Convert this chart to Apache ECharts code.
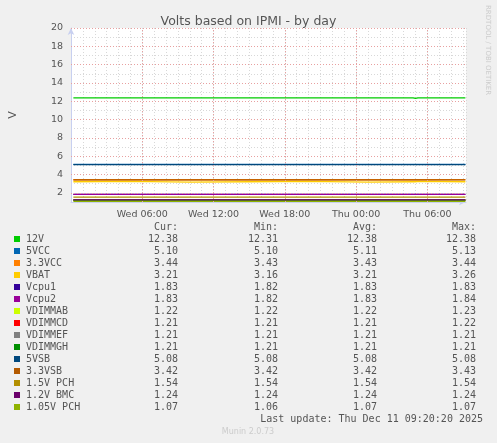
<!DOCTYPE html>
<html><head><meta charset="utf-8">
<script src="https://cdn.jsdelivr.net/npm/echarts@6/dist/echarts.min.js"></script>
<style>html,body{margin:0;padding:0;background:#f0f0f0}#c{width:497px;height:443px}</style>
</head><body><div id="c"></div>
<script>
const names=["12V","5VCC","3.3VCC","VBAT","Vcpu1","Vcpu2","VDIMMAB","VDIMMCD","VDIMMEF","VDIMMGH","5VSB","3.3VSB","1.5V PCH","1.2V BMC","1.05V PCH"];
const colors=["#00cc00","#0066b3","#ff8000","#ffcc00","#330099","#990099","#ccff00","#ff0000","#808080","#008f00","#00487d","#b35a00","#b38f00","#6b006b","#8fb300"];
const cur=["12.38","5.10","3.44","3.21","1.83","1.83","1.22","1.21","1.21","1.21","5.08","3.42","1.54","1.24","1.07"];
const mins=["12.31","5.10","3.43","3.16","1.82","1.82","1.22","1.21","1.21","1.21","5.08","3.42","1.54","1.24","1.06"];
const avgs=["12.38","5.11","3.43","3.21","1.83","1.83","1.22","1.21","1.21","1.21","5.08","3.42","1.54","1.24","1.07"];
const maxs=["12.38","5.13","3.44","3.26","1.83","1.84","1.23","1.22","1.21","1.21","5.08","3.43","1.54","1.24","1.07"];
// hours since Wed 00:00
const hours=[0.2,5,10,15,20,25,28.8,29,29.2,33.2];
const values=[
[12.38,12.38,12.38,12.38,12.38,12.38,12.38,12.31,12.38,12.38],
[5.11,5.11,5.11,5.11,5.11,5.11,5.11,5.11,5.11,5.10],
[3.43,3.43,3.43,3.43,3.43,3.43,3.43,3.43,3.43,3.44],
[3.21,3.26,3.16,3.21,3.26,3.16,3.21,3.21,3.26,3.21],
[1.83,1.83,1.83,1.83,1.83,1.83,1.83,1.83,1.83,1.83],
[1.83,1.83,1.83,1.83,1.83,1.83,1.83,1.83,1.83,1.83],
[1.22,1.22,1.22,1.22,1.22,1.22,1.22,1.22,1.22,1.22],
[1.21,1.21,1.21,1.21,1.21,1.21,1.21,1.21,1.21,1.21],
[1.21,1.21,1.21,1.21,1.21,1.21,1.21,1.21,1.21,1.21],
[1.21,1.21,1.21,1.21,1.21,1.21,1.21,1.21,1.21,1.21],
[5.08,5.08,5.08,5.08,5.08,5.08,5.08,5.08,5.08,5.08],
[3.42,3.42,3.42,3.42,3.42,3.42,3.42,3.42,3.42,3.42],
[1.54,1.54,1.54,1.54,1.54,1.54,1.54,1.54,1.54,1.54],
[1.24,1.24,1.24,1.24,1.24,1.24,1.24,1.24,1.24,1.24],
[1.07,1.07,1.07,1.07,1.07,1.07,1.07,1.07,1.07,1.07]];
const xTicks={6:"Wed 06:00",12:"Wed 12:00",18:"Wed 18:00",24:"Thu 00:00",30:"Thu 06:00"};
const yMajor=[2,4,6,8,10,12,14,16,18,20];

const chart=echarts.init(document.getElementById('c'));
const mono="DejaVu Sans Mono";
const series=names.map((n,i)=>({name:n,type:'line',showSymbol:false,animation:false,
  lineStyle:{width:1.3,color:colors[i]},itemStyle:{color:colors[i]},
  data:hours.map((h,j)=>[h,values[i][j]]),z:3}));
series.push({type:'line',data:[],silent:true,markLine:{silent:true,symbol:'none',label:{show:false},animation:false,
  lineStyle:{color:'#e8a0a0',type:[1,2],width:1},
  data:Object.keys(xTicks).map(k=>({xAxis:+k})).concat(yMajor.map(v=>({yAxis:v})))}});
const g=[];
const cols=[178,278,377,476], hdr=["Cur:","Min:","Avg:","Max:"];
hdr.forEach((h,k)=>g.push({type:'text',style:{text:h,x:cols[k],y:227,align:'right',verticalAlign:'middle',font:'10px '+mono,fill:'#555'}}));
names.forEach((n,i)=>{
  const y=239.5+i*12;
  g.push({type:'rect',shape:{x:14,y:y-3.5,width:6,height:6},style:{fill:colors[i]}});
  g.push({type:'text',style:{text:n,x:26,y:y,verticalAlign:'middle',font:'10px '+mono,fill:'#555'}});
  [cur,mins,avgs,maxs].forEach((arr,k)=>g.push({type:'text',style:{text:arr[i],x:cols[k],y:y,align:'right',verticalAlign:'middle',font:'10px '+mono,fill:'#555'}}));
});
g.push({type:'text',style:{text:'Last update: Thu Dec 11 09:20:20 2025',x:483,y:419.5,align:'right',verticalAlign:'middle',font:'10px '+mono,fill:'#555'}});
g.push({type:'text',style:{text:'Munin 2.0.73',x:248,y:431.5,align:'center',verticalAlign:'middle',font:'8px DejaVu Sans',fill:'#ccc'}});
g.push({type:'text',rotation:-Math.PI/2,x:488,y:5,style:{text:'RRDTOOL / TOBI OETIKER',x:0,y:0,verticalAlign:'middle',font:'7px DejaVu Sans',fill:'#ccc'}});
chart.setOption({
  backgroundColor:'#f0f0f0',animation:false,
  title:{text:'Volts based on IPMI - by day',left:'center',top:10,textStyle:{fontFamily:'DejaVu Sans',fontSize:12.5,fontWeight:'normal',color:'#555'}},
  grid:{left:67,right:31,top:28,bottom:241,backgroundColor:'#fff',show:true,borderWidth:0},
  xAxis:{type:'value',min:0,max:33.25,interval:1,
    axisLine:{lineStyle:{color:'#c8d0f0'},symbol:['none','arrow'],symbolSize:[5,7]},
    axisTick:{show:false},
    axisLabel:{fontFamily:'DejaVu Sans',fontSize:9.5,color:'#555',showMinLabel:false,showMaxLabel:false,formatter:v=>xTicks[v]||''},
    splitLine:{show:true,lineStyle:{color:'#d8d8d8',type:[1,2]}}},
  yAxis:{type:'value',min:1,max:20,interval:1,name:'V',nameLocation:'middle',nameGap:52,nameRotate:90,
    nameTextStyle:{fontFamily:'DejaVu Sans',fontSize:11,color:'#555'},
    axisLine:{show:true,lineStyle:{color:'#c8d0f0'},symbol:['none','arrow'],symbolSize:[5,7]},
    axisTick:{show:false},
    axisLabel:{fontFamily:'DejaVu Sans',fontSize:9.5,color:'#555',formatter:v=>v%2===0?String(v):''},
    splitLine:{show:true,lineStyle:{color:'#d8d8d8',type:[1,2]}}},
  series:series,graphic:g
});
</script></body></html>
